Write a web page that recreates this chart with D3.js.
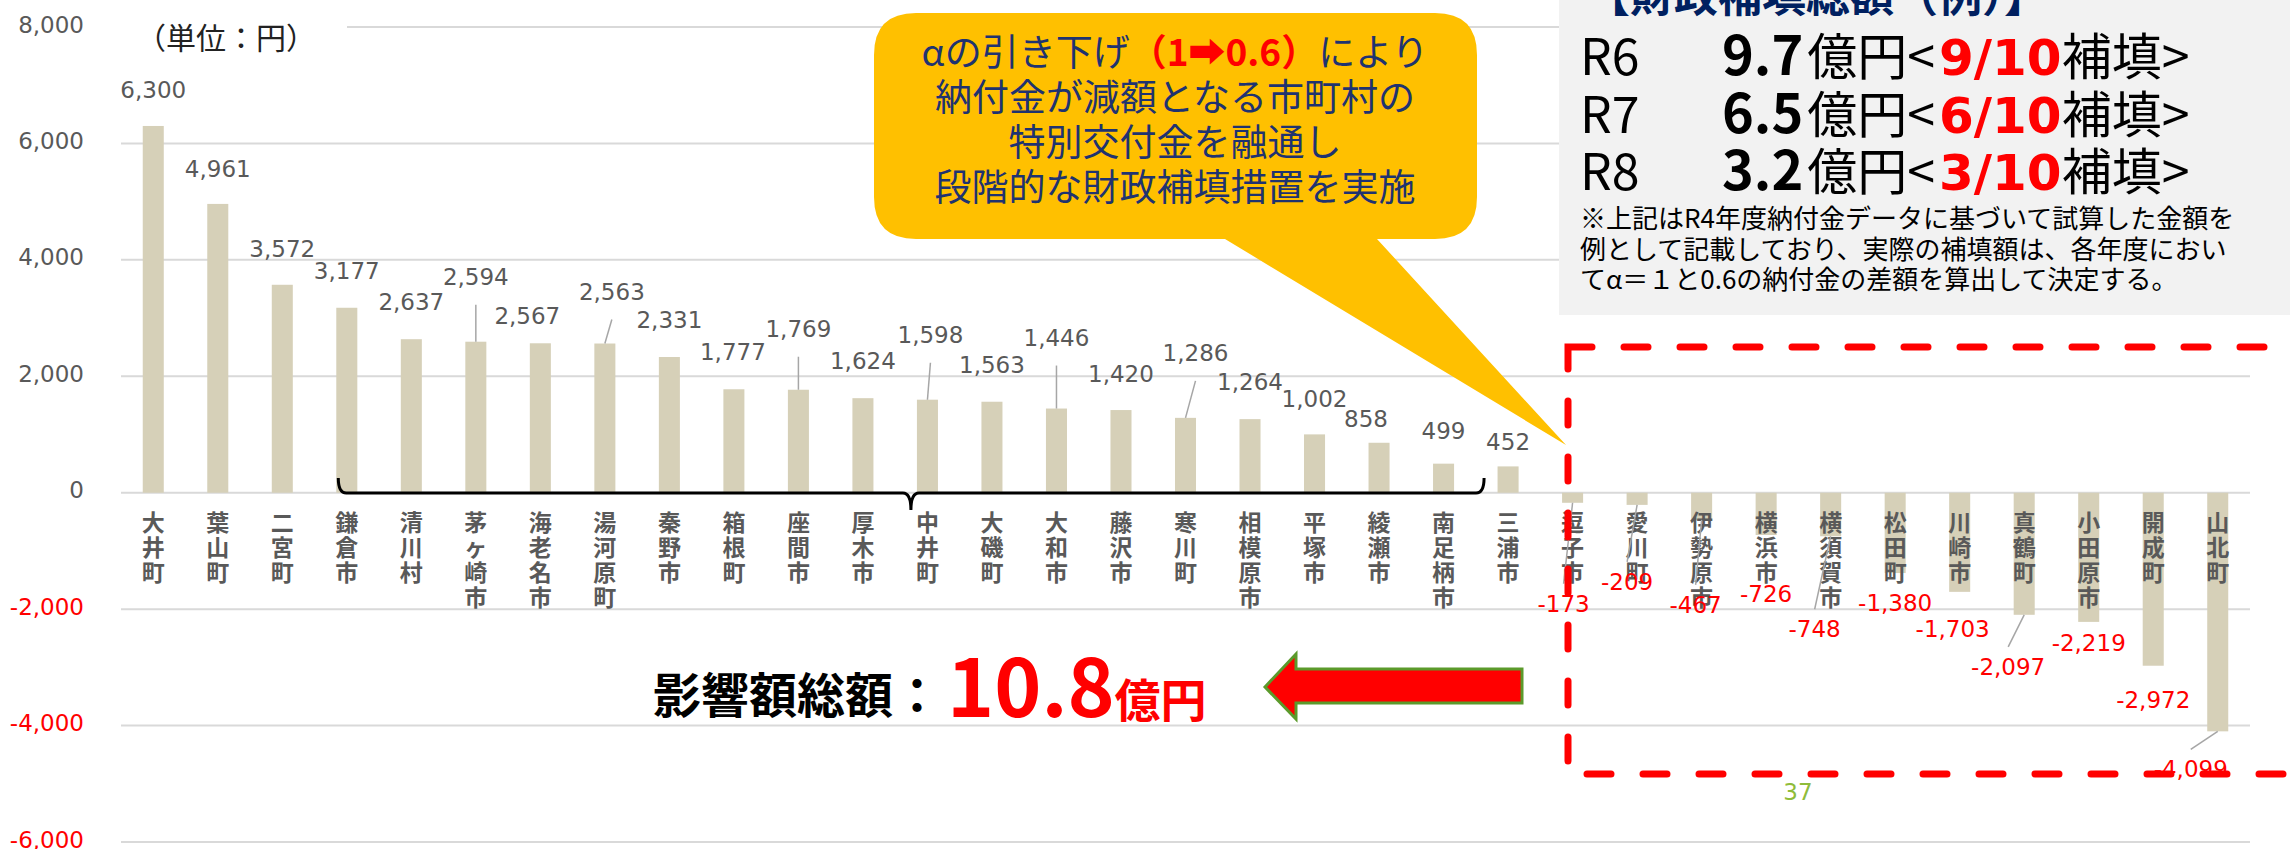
<!DOCTYPE html>
<html>
<head>
<meta charset="utf-8">
<script src="https://cdn.jsdelivr.net/npm/d3@7"></script>
<style>
  body { margin: 0; background: #fff; }
  svg { display: block; }
</style>
</head>
<body>
<svg id="chart"></svg>
<script>
// municipalities, left to right
const categories = ["大井町","葉山町","二宮町","鎌倉市","清川村","茅ヶ崎市","海老名市","湯河原町","秦野市","箱根町","座間市",
  "厚木市","中井町","大磯町","大和市","藤沢市","寒川町","相模原市","平塚市","綾瀬市","南足柄市","三浦市",
  "逗子市","愛川町","伊勢原市","横浜市","横須賀市","松田町","川崎市","真鶴町","小田原市","開成町","山北町"];
// impact per person (円)
const values = [6300,4961,3572,3177,2637,2594,2567,2563,2331,1777,1769,1624,1598,1563,1446,1420,1286,1264,1002,858,499,452,
  -173,-209,-467,-726,-748,-1380,-1703,-2097,-2219,-2972,-4099];
const yTicks = [-6000,-4000,-2000,0,2000,4000,6000,8000];

// label placement tweaks (pixels from bar end), copied from the slide
const labelDy = [-28,-27,-28,-29,-29,-57,-19,-44,-29,-29,-53,-29,-57,-29,-63,-28,-57,-29,-27,-16,-25,-16,
  109,85,93,67,101,38,45,60,29,42,46];
const labelDx = [0,0,0,0,0,0,-13,7,0,-1,0,0,3,0,0,0,10,0,0,-13,0,0,
  -9,-10,-6,0,-16,0,-7,-16,0,0,-27];
const leaders = [5,7,10,12,14,16,22,23,24,26,29,32];

const W = 2290, H = 849;
const svg = d3.select("#chart").attr("width", W).attr("height", H);

const x = d3.scaleBand().domain(categories).range([121, 2250]).paddingInner(0.674).paddingOuter(0.337);
const y = d3.scaleLinear().domain([-6000, 8000]).range([842, 27]);

// plain hyphen for negatives, like Excel
const fmt = d3.formatLocale({decimal: ".", thousands: ",", grouping: [3], currency: ["", ""], minus: "-"}).format(",");

const numFont = "'DejaVu Sans', sans-serif";
const jpFont = "'Noto Sans CJK JP', 'Noto Sans', sans-serif";

// gridlines
svg.append("g").selectAll("line").data(yTicks).join("line")
  .attr("x1", 121).attr("x2", 2250)
  .attr("y1", d => y(d)).attr("y2", d => y(d))
  .attr("stroke", "#d9d9d9").attr("stroke-width", 2);

// y axis labels
const yAxis = svg.append("g").attr("transform", "translate(121,0)")
  .call(d3.axisLeft(y).tickValues(yTicks).tickSize(0).tickPadding(37).tickFormat(fmt));
yAxis.select(".domain").remove();
yAxis.selectAll("text")
  .attr("dy", "0.22em")
  .attr("font-family", numFont).attr("font-size", 23)
  .attr("fill", d => d < 0 ? "#ff0000" : "#595959");

// unit label with white backing
svg.append("rect").attr("x", 121).attr("y", 12).attr("width", 226).attr("height", 44).attr("fill", "#fff");
svg.append("text").attr("x", 136).attr("y", 49)
  .attr("font-family", jpFont).attr("font-size", 30).attr("fill", "#222")
  .text("（単位：円）");

// bars
svg.append("g").selectAll("rect").data(values).join("rect")
  .attr("x", (d, i) => x(categories[i]))
  .attr("width", x.bandwidth())
  .attr("y", d => d >= 0 ? y(d) : y(0))
  .attr("height", d => Math.abs(y(d) - y(0)))
  .attr("fill", "#d6d0b8");

// category labels, stacked vertically
const cat = svg.append("g").selectAll("text").data(categories).join("text")
  .attr("font-family", jpFont).attr("font-size", 23).attr("font-weight", "bold")
  .attr("fill", "#595959").attr("text-anchor", "middle");
cat.each(function(d) {
  const cx = x(d) + x.bandwidth() / 2;
  d3.select(this).selectAll("tspan").data(Array.from(d)).join("tspan")
    .attr("x", cx).attr("y", (c, j) => 531 + j * 25).text(c => c);
});

// leader lines
const lx = i => x(categories[i]) + x.bandwidth() / 2 + labelDx[i];
const ly = i => y(values[i]) + labelDy[i];
svg.append("g").selectAll("line").data(leaders).join("line")
  .attr("x1", i => x(categories[i]) + x.bandwidth() / 2)
  .attr("y1", i => y(values[i]))
  .attr("x2", i => lx(i))
  .attr("y2", i => values[i] >= 0 ? ly(i) + 20 : ly(i) - 28)
  .attr("stroke", "#a6a6a6").attr("stroke-width", 1.5);

// data labels
svg.append("g").selectAll("text").data(values).join("text")
  .attr("x", (d, i) => lx(i)).attr("y", (d, i) => ly(i))
  .attr("text-anchor", "middle")
  .attr("font-family", numFont).attr("font-size", 23)
  .attr("fill", d => d < 0 ? "#ff0000" : "#595959")
  .text(d => fmt(d));

// brace under 鎌倉市 .. 南足柄市
const bx0 = x("鎌倉市") + 2, bx1 = x("南足柄市") + x.bandwidth() + 30, bm = x("中井町") - 6;
svg.append("path")
  .attr("d", `M${bx0},478 Q${bx0},493 ${bx0 + 8},493 L${bm - 8},493 Q${bm},493 ${bm},510 Q${bm},493 ${bm + 8},493 L${bx1 - 8},493 Q${bx1},493 ${bx1},478`)
  .attr("fill", "none").attr("stroke", "#000").attr("stroke-width", 3);

// grey info box
svg.append("rect").attr("x", 1559).attr("y", -10).attr("width", 760).attr("height", 325).attr("fill", "#f2f2f2");
svg.append("text").attr("x", 1586).attr("y", 12)
  .attr("font-family", jpFont).attr("font-size", 44).attr("font-weight", "bold").attr("fill", "#002060")
  .text("【財政補填総額（例）】");

const rows = [["R6", "9.7", "9/10"], ["R7", "6.5", "6/10"], ["R8", "3.2", "3/10"]];
rows.forEach((r, k) => {
  const by = 75 + k * 57.5;
  svg.append("text").attr("x", 1580).attr("y", by)
    .attr("font-family", jpFont).attr("font-size", 50).attr("fill", "#000").text(r[0]);
  const t = svg.append("text").attr("x", 1722).attr("y", by)
    .attr("font-family", jpFont).attr("font-size", 50).attr("fill", "#000");
  t.append("tspan").attr("font-weight", "bold").attr("font-size", 54).text(r[1]);
  t.append("tspan").attr("dx", 4).text("億円<");
  t.append("tspan").attr("dx", 4).attr("font-family", numFont).attr("font-weight", "bold")
    .attr("fill", "#ff0000").text(r[2]);
  t.append("tspan").text("補填>");
});
const notes = ["※上記はR4年度納付金データに基づいて試算した金額を",
  "例として記載しており、実際の補填額は、各年度におい",
  "てα＝１と0.6の納付金の差額を算出して決定する。"];
svg.append("g").selectAll("text").data(notes).join("text")
  .attr("x", 1580).attr("y", (d, i) => 228 + i * 30.5)
  .attr("font-family", jpFont).attr("font-size", 26).attr("fill", "#000")
  .text(d => d);

// speech bubble
const bx = 874, by = 13, bw = 603, bh = 226, r = 42;
svg.append("path")
  .attr("d", `M${bx + r},${by} H${bx + bw - r} Q${bx + bw},${by} ${bx + bw},${by + r} V${by + bh - r}
    Q${bx + bw},${by + bh} ${bx + bw - r},${by + bh} H1377 L1566,445 L1225,${by + bh} H${bx + r}
    Q${bx},${by + bh} ${bx},${by + bh - r} V${by + r} Q${bx},${by} ${bx + r},${by} Z`)
  .attr("fill", "#ffc000");
const bubble = svg.append("g").attr("font-family", jpFont).attr("font-size", 37)
  .attr("fill", "#1f3370").attr("text-anchor", "middle");
const l1 = bubble.append("text").attr("x", 1175).attr("y", 66);
l1.append("tspan").text("αの引き下げ");
l1.append("tspan").attr("fill", "#ff0000").attr("font-weight", "bold").text("（1➡0.6）");
l1.append("tspan").text("により");
["納付金が減額となる市町村の", "特別交付金を融通し", "段階的な財政補填措置を実施"].forEach((s, i) => {
  bubble.append("text").attr("x", 1175).attr("y", 111 + i * 45).text(s);
});

// total impact text and arrow
svg.append("text").attr("x", 653).attr("y", 713)
  .attr("font-family", jpFont).attr("font-size", 48).attr("font-weight", "bold").attr("fill", "#000")
  .text("影響額総額：");
const tot = svg.append("text").attr("x", 947).attr("y", 717)
  .attr("font-family", jpFont).attr("font-weight", "bold").attr("fill", "#ff0000");
tot.append("tspan").attr("font-size", 80).text("10.8");
tot.append("tspan").attr("font-size", 46).text("億円");

svg.append("path")
  .attr("d", "M1265,687 L1296,654 L1296,669 L1522,669 L1522,703 L1296,703 L1296,719 Z")
  .attr("fill", "#ff0000").attr("stroke", "#5b9a2b").attr("stroke-width", 3).attr("stroke-linejoin", "miter");

// red dashed frame
svg.append("rect").attr("x", 1568).attr("y", 347).attr("width", 760).attr("height", 427)
  .attr("fill", "none").attr("stroke", "#ff0000").attr("stroke-width", 7)
  .attr("stroke-dasharray", "24 32").attr("stroke-linecap", "round");

// page number
svg.append("text").attr("x", 1798).attr("y", 800).attr("text-anchor", "middle")
  .attr("font-family", numFont).attr("font-size", 23).attr("fill", "#8fbc3a").text("37");
</script>
</body>
</html>
